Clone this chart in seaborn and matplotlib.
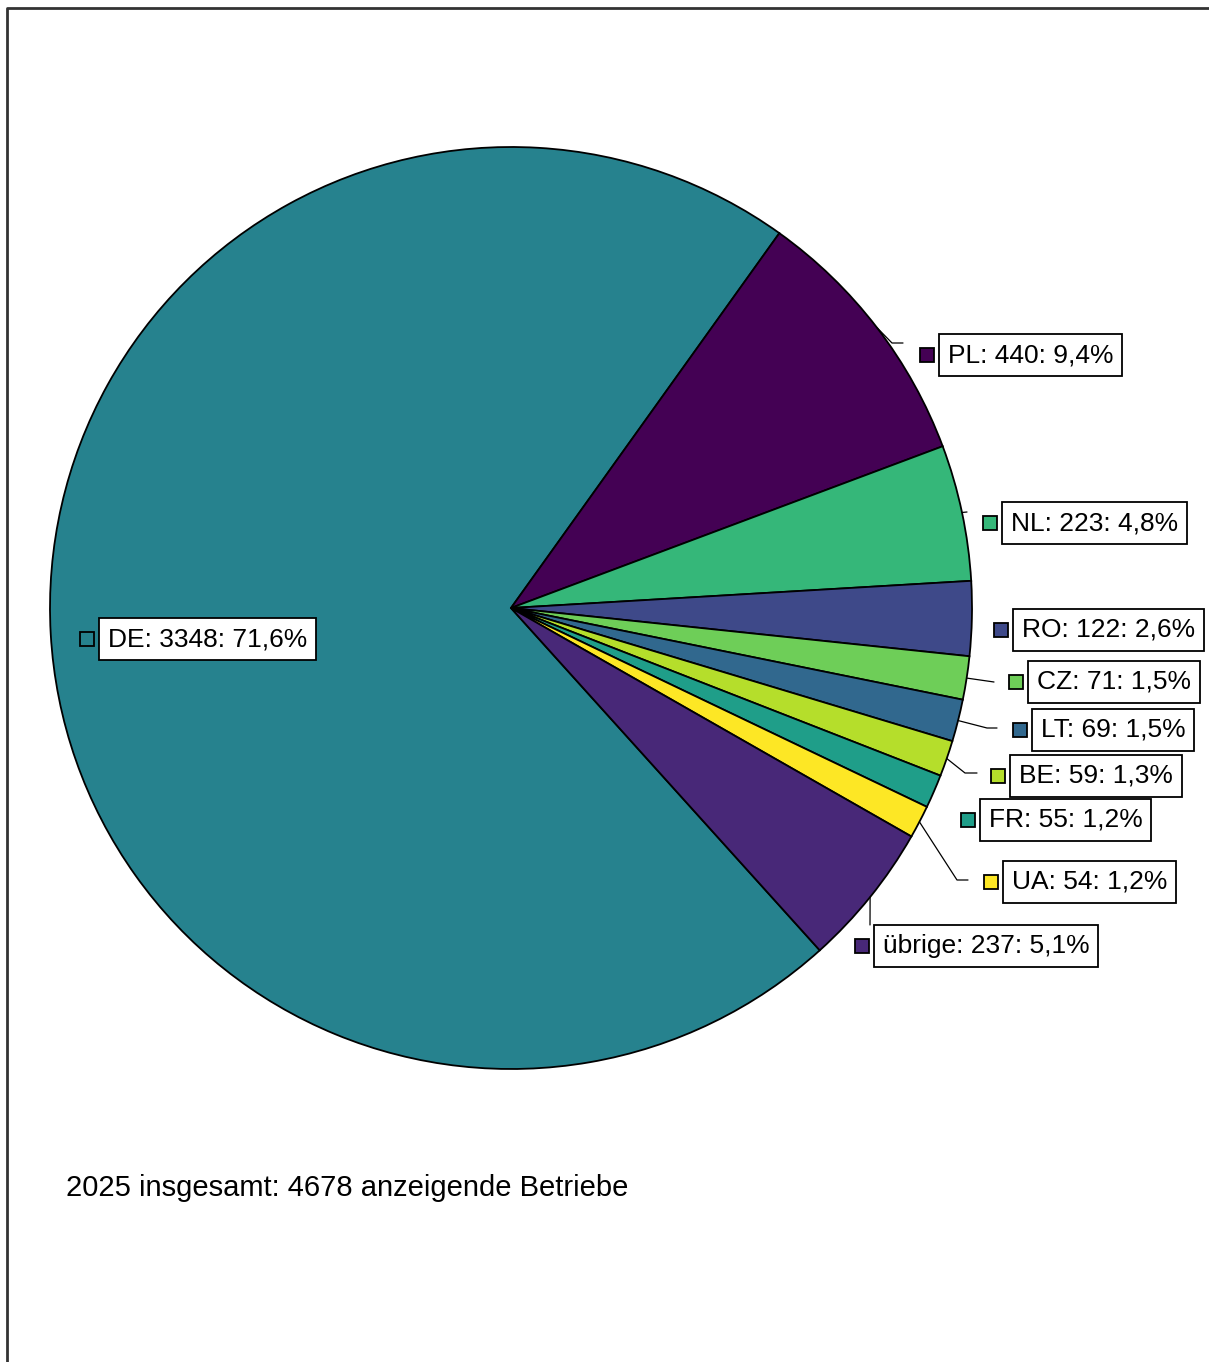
import numpy as np
import matplotlib.pyplot as plt
import seaborn as sns

# data: anzeigende Betriebe 2025 nach Herkunft
countries = ["DE", "PL", "NL", "RO", "CZ", "LT", "BE", "FR", "UA", "übrige"]
counts = [3348, 440, 223, 122, 71, 69, 59, 55, 54, 237]
color_idx = [4, 0, 6, 2, 7, 3, 8, 5, 9, 1]

# label layout in pixels (marker centre x, y) and leader line points
label_pos = [(87, 639), (927, 355), (990, 523), (1001, 630), (1016, 682),
             (1020, 730), (998, 776), (968, 820), (991, 882), (862, 946)]
leaders = [None, [(892, 343), (903, 343)], [(967, 512)], None, [(994, 682)],
           [(987, 728), (997, 728)], [(965, 773), (977, 773)], None,
           [(957, 880), (968, 880)], [(870, 925)]]

W, H = 1209, 1362
def py(y):
    return H - y

sns.set_theme(style="white")
plt.rcParams['font.family'] = ['Liberation Sans', 'DejaVu Sans']
plt.rcParams['text.color'] = 'black'

viridis = sns.color_palette([plt.cm.viridis(v) for v in np.linspace(0, 1, 10)])
colors = [viridis[i] for i in color_idx]

total = sum(counts)
fig = plt.figure(figsize=(W / 100, H / 100), dpi=100)
ax = fig.add_axes([0, 0, 1, 1])

cx, cy, R = 511, py(608), 461
start = 54.4 + 360 * counts[0] / total
wedges, _ = ax.pie(counts, colors=colors, startangle=start, counterclock=False,
                   center=(cx, cy), radius=R,
                   wedgeprops=dict(edgecolor="black", linewidth=1.3))
ax.set_xlim(0, W)
ax.set_ylim(0, H)
ax.set_aspect('equal')
ax.axis('off')

for i, w in enumerate(wedges):
    mid = np.deg2rad((w.theta1 + w.theta2) / 2)
    if leaders[i] is not None:
        xs = [cx + R * np.cos(mid)] + [p[0] for p in leaders[i]]
        ys = [cy + R * np.sin(mid)] + [py(p[1]) for p in leaders[i]]
        ax.plot(xs, ys, color="black", lw=0.9, zorder=3)
    mx, my = label_pos[i]
    ax.plot(mx, py(my), marker='s', ms=9.5, mfc=colors[i], mec='black', mew=1.3,
            ls='none', zorder=4)
    pct = f"{100 * counts[i] / total:.1f}".replace(".", ",")
    ax.text(mx + 21, py(my), f"{countries[i]}: {counts[i]}: {pct}%",
            fontsize=19, ha='left', va='center', color='black', zorder=5,
            bbox=dict(boxstyle='square,pad=0.33', fc='white', ec='black', lw=1.3))

ax.text(66, py(1188), f"2025 insgesamt: {total} anzeigende Betriebe",
        fontsize=21, ha='left', va='center', color='black')

# frame cut at right/bottom
ax.plot([7, 7, W + 5], [-5, py(8), py(8)], color="#333333", lw=2.0, clip_on=False)

fig.savefig("out.png", dpi=100)
